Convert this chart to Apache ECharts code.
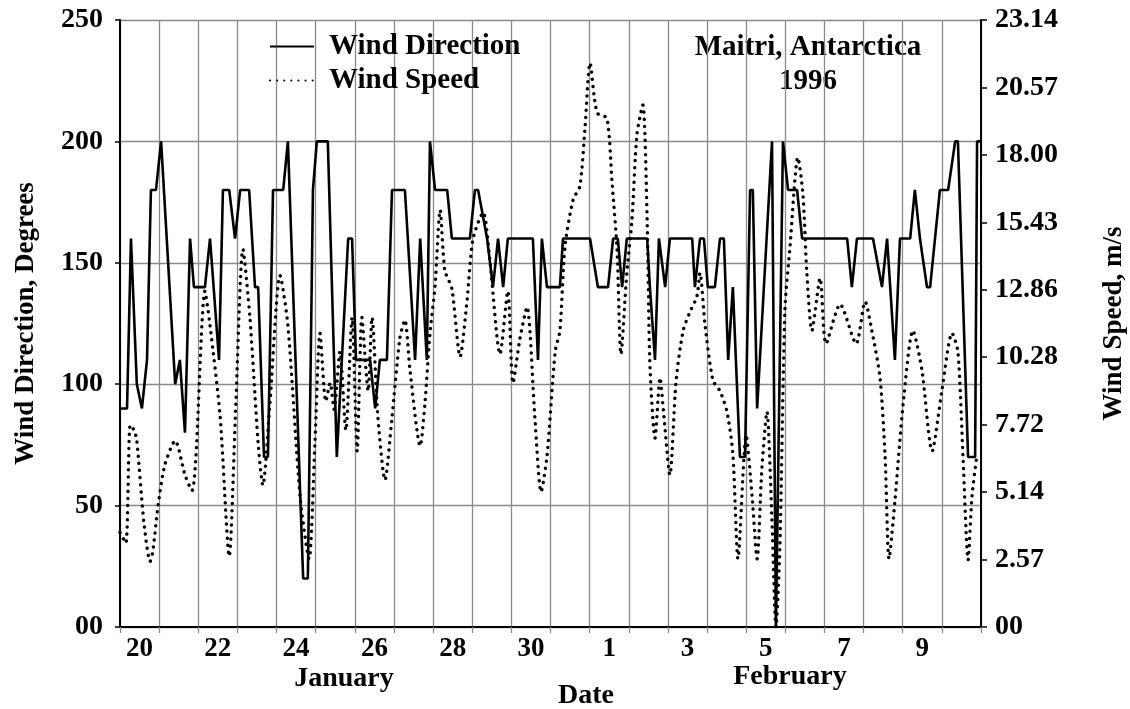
<!DOCTYPE html>
<html>
<head>
<meta charset="utf-8">
<script src="https://cdn.jsdelivr.net/npm/echarts@6/dist/echarts.min.js"></script>
<style>
  html, body { margin: 0; padding: 0; background: #fff; }
  #chart { width: 1130px; height: 709px; }
</style>
</head>
<body>
<div id="chart"></div>
<script>
// days of the record, Jan 20 .. Feb 10
const dayLabels = ['20','21','22','23','24','25','26','27','28','29','30','31',
                   '1','2','3','4','5','6','7','8','9','10'];
const leftTicks = ['00', '50', '100', '150', '200', '250'];
const rightTicks = ['00', '2.57', '5.14', '7.72', '10.28', '12.86', '15.43', '18.00', '20.57', '23.14'];
const speedMax = 23.14;

// [days since Jan 20 00h, degrees]
const dirPoints = [
  [0.00,90],[0.18,90],[0.28,160],[0.43,100],[0.56,90],[0.69,110],[0.79,180],[0.92,180],
  [1.05,200],[1.41,100],[1.53,110],[1.66,80],[1.79,160],[1.89,140],[2.17,140],[2.30,160],
  [2.53,110],[2.63,180],[2.79,180],[2.94,160],[3.07,180],[3.30,180],[3.45,140],[3.53,140],
  [3.68,70],[3.78,70],[3.91,180],[4.17,180],[4.29,200],[4.68,20],[4.80,20],[4.93,180],
  [5.03,200],[5.31,200],[5.54,70],[5.83,160],[5.93,160],[6.03,110],[6.39,110],[6.52,90],
  [6.64,110],[6.82,110],[6.95,180],[7.28,180],[7.54,110],[7.67,160],[7.84,110],[7.92,200],
  [8.05,180],[8.36,180],[8.48,160],[8.94,160],[9.07,180],[9.15,180],[9.38,160],[9.53,140],
  [9.66,160],[9.79,140],[9.91,160],[10.55,160],[10.68,110],[10.78,160],[10.91,140],[11.24,140],
  [11.32,160],[12.01,160],[12.21,140],[12.47,140],[12.60,160],[12.72,160],[12.83,140],[12.95,160],
  [13.47,160],[13.54,140],[13.67,110],[13.77,160],[13.93,140],[14.05,160],[14.62,160],[14.69,140],
  [14.82,160],[14.92,160],[15.02,140],[15.20,140],[15.33,160],[15.43,160],[15.54,110],[15.66,140],
  [15.84,70],[15.97,70],[16.10,180],[16.17,180],[16.28,90],[16.66,200],[16.76,0],[16.94,200],
  [17.07,180],[17.30,180],[17.43,160],[18.58,160],[18.70,140],[18.83,160],[19.24,160],[19.47,140],
  [19.60,160],[19.80,110],[19.93,160],[20.19,160],[20.31,180],[20.44,160],[20.62,140],[20.70,140],
  [20.95,180],[21.16,180],[21.34,200],[21.41,200],[21.67,70],[21.85,70],[21.90,200],[22.00,200]
];

// [days since Jan 20 00h, m/s]
const speedPoints = [
  [0.00,3.6],[0.15,3.2],[0.26,7.7],[0.36,7.5],[0.43,7.1],[0.61,4.0],[0.77,2.5],[0.84,2.9],
  [0.97,4.6],[1.15,6.2],[1.41,7.1],[1.66,5.8],[1.84,5.2],[1.94,6.5],[2.17,12.8],[2.30,11.5],
  [2.56,8.0],[2.79,2.7],[2.96,8.5],[3.14,14.4],[3.32,11.8],[3.53,7.0],[3.65,5.4],[3.83,8.5],
  [4.09,13.4],[4.29,11.5],[4.60,5.0],[4.83,2.6],[4.98,7.0],[5.11,11.2],[5.26,8.6],[5.37,9.3],
  [5.47,8.3],[5.62,10.5],[5.77,7.5],[5.93,11.8],[6.06,6.7],[6.18,11.8],[6.34,9.0],[6.44,11.8],
  [6.59,8.0],[6.77,5.6],[6.95,8.0],[7.15,11.0],[7.28,11.7],[7.41,9.8],[7.67,6.9],[7.79,8.5],
  [7.92,11.2],[8.05,13.0],[8.18,15.9],[8.30,13.6],[8.48,12.9],[8.69,10.3],[8.87,12.5],[9.02,14.8],
  [9.28,15.8],[9.45,14.0],[9.71,10.4],[9.91,12.8],[10.04,9.3],[10.22,11.0],[10.40,12.2],[10.60,8.0],
  [10.76,5.15],[10.91,6.5],[11.12,10.5],[11.24,11.3],[11.37,14.5],[11.58,16.3],[11.75,16.8],[11.88,19.0],
  [12.01,21.5],[12.19,19.6],[12.44,19.4],[12.57,17.0],[12.70,14.4],[12.80,10.4],[12.95,13.5],[13.08,15.5],
  [13.21,18.8],[13.36,19.9],[13.47,15.5],[13.54,10.0],[13.67,7.2],[13.80,9.5],[13.90,8.0],[14.05,5.8],
  [14.21,9.4],[14.39,11.3],[14.56,12.0],[14.74,12.6],[14.82,13.5],[14.95,11.5],[15.15,9.4],[15.33,9.0],
  [15.51,8.2],[15.66,6.6],[15.79,2.6],[16.00,7.3],[16.15,5.0],[16.28,2.6],[16.40,6.0],[16.53,8.2],
  [16.66,4.0],[16.76,0],[16.86,3.0],[16.99,12.1],[17.12,14.5],[17.32,17.9],[17.45,16.5],[17.55,13.5],
  [17.68,11.3],[17.89,13.3],[18.04,10.8],[18.40,12.3],[18.81,10.8],[19.04,12.4],[19.21,11.3],[19.42,9.5],
  [19.55,6.5],[19.65,2.6],[19.80,4.8],[20.01,8.5],[20.26,11.3],[20.49,9.8],[20.75,6.7],[21.00,9.0],
  [21.26,11.2],[21.41,10.5],[21.54,6.5],[21.67,2.55],[21.77,5.0],[21.90,6.6]
];

const FONT = '"Liberation Serif", "Times New Roman", serif';
const GRID_GRAY = '#8a8a8a';

const chart = echarts.init(document.getElementById('chart'));

const option = {
  animation: false,
  backgroundColor: '#fff',
  grid: { left: 120, right: 149, top: 20, bottom: 82, outerBoundsMode: 'none' },
  legend: {
    data: ['Wind Direction', 'Wind Speed'],
    orient: 'vertical',
    left: 264,
    top: 27,
    itemWidth: 44,
    itemHeight: 14,
    itemGap: 5,
    // hide the marker dot, keep the line sample
    itemStyle: { opacity: 0 },
    textStyle: {
      fontFamily: FONT, fontWeight: 'bold', fontSize: 29, color: '#000',
      lineHeight: 28, padding: [0, 0, 0, 10]
    }
  },
  graphic: [
    {
      type: 'text', x: 808, y: 65,
      style: {
        text: 'Maitri, Antarctica\n1996', align: 'center', verticalAlign: 'middle',
        fontFamily: FONT, fontWeight: 'bold', fontSize: 29, lineHeight: 34, fill: '#000'
      }
    },
    {
      type: 'text', x: 344, y: 679,
      style: { text: 'January', align: 'center', verticalAlign: 'middle',
        fontFamily: FONT, fontWeight: 'bold', fontSize: 28, fill: '#000' }
    },
    {
      type: 'text', x: 790, y: 677,
      style: { text: 'February', align: 'center', verticalAlign: 'middle',
        fontFamily: FONT, fontWeight: 'bold', fontSize: 28, fill: '#000' }
    },
    {
      type: 'text', x: 586, y: 696,
      style: { text: 'Date', align: 'center', verticalAlign: 'middle',
        fontFamily: FONT, fontWeight: 'bold', fontSize: 28, fill: '#000' }
    }
  ],
  xAxis: [
    {
      type: 'category',
      data: dayLabels,
      boundaryGap: true,
      axisLine: { lineStyle: { color: '#000', width: 2 } },
      axisTick: { show: true, interval: 0, length: 6, lineStyle: { color: GRID_GRAY, width: 1.3 } },
      axisLabel: { interval: 1, margin: 9, fontFamily: FONT, fontWeight: 'bold', fontSize: 27, color: '#000' },
      splitLine: { show: true, interval: 0, lineStyle: { color: GRID_GRAY, width: 1.3 } }
    },
    { type: 'value', min: 0, max: 22, show: false }
  ],
  yAxis: [
    {
      type: 'value',
      min: 0, max: 250, interval: 50,
      name: 'Wind Direction, Degrees',
      nameLocation: 'middle',
      nameRotate: 90,
      nameGap: 80,
      nameTextStyle: { fontFamily: FONT, fontWeight: 'bold', fontSize: 27, color: '#000' },
      axisLine: { show: true, lineStyle: { color: '#000', width: 2 } },
      axisTick: { show: true, length: 5, lineStyle: { color: '#000', width: 1.5 } },
      axisLabel: {
        margin: 17, fontFamily: FONT, fontWeight: 'bold', fontSize: 28, color: '#000',
        formatter: (v) => leftTicks[Math.round(v / 50)]
      },
      splitLine: { show: true, lineStyle: { color: GRID_GRAY, width: 1.3 } }
    },
    {
      type: 'value',
      position: 'right',
      min: 0, max: speedMax, interval: speedMax / 9,
      name: 'Wind Speed, m/s',
      nameLocation: 'middle',
      nameRotate: 90,
      nameGap: 120,
      nameTextStyle: { fontFamily: FONT, fontWeight: 'bold', fontSize: 27, color: '#000' },
      axisLine: { show: true, lineStyle: { color: '#000', width: 2 } },
      axisTick: { show: true, length: 6, lineStyle: { color: '#000', width: 1.5 } },
      axisLabel: {
        margin: 14, fontFamily: FONT, fontWeight: 'bold', fontSize: 28, color: '#000',
        formatter: (v) => rightTicks[Math.round(v / (speedMax / 9))]
      },
      splitLine: { show: false }
    }
  ],
  series: [
    {
      name: 'Wind Direction',
      type: 'line',
      xAxisIndex: 1,
      yAxisIndex: 0,
      data: dirPoints,
      symbol: 'none',
      z: 3,
      lineStyle: { color: '#000', width: 2.6 },
      itemStyle: { color: '#000' }
    },
    {
      name: 'Wind Speed',
      type: 'line',
      xAxisIndex: 1,
      yAxisIndex: 1,
      data: speedPoints,
      symbol: 'none',
      smooth: 0.25,
      z: 2,
      lineStyle: { color: '#000', width: 3.4, type: [0.1, 7], cap: 'round' },
      itemStyle: { color: '#000' }
    }
  ]
};

chart.setOption(option);
</script>
</body>
</html>
